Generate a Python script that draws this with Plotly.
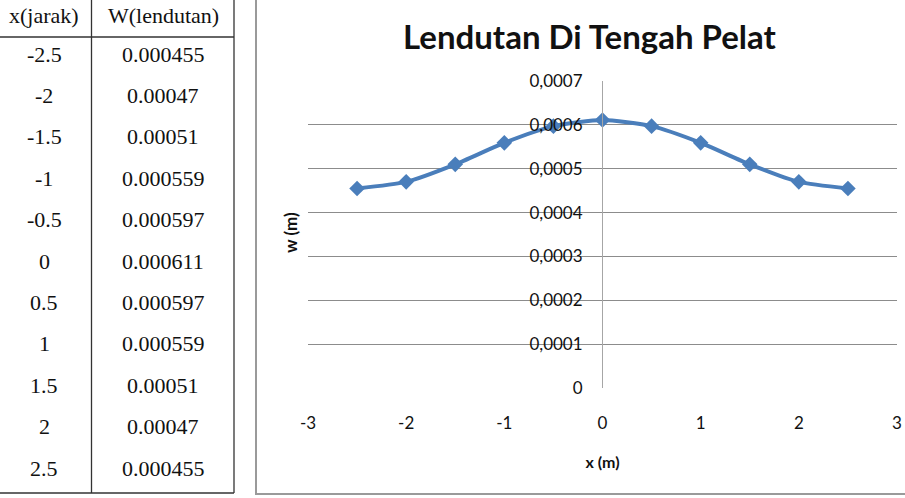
import plotly.graph_objects as go

W, H = 905, 498

x_vals = [-2.5, -2, -1.5, -1, -0.5, 0, 0.5, 1, 1.5, 2, 2.5]
w_vals = [0.000455, 0.00047, 0.00051, 0.000559, 0.000597, 0.000611,
          0.000597, 0.000559, 0.00051, 0.00047, 0.000455]
x_labels = ["-2.5", "-2", "-1.5", "-1", "-0.5", "0", "0.5", "1", "1.5", "2", "2.5"]
w_labels = ["0.000455", "0.00047", "0.00051", "0.000559", "0.000597", "0.000611",
            "0.000597", "0.000559", "0.00051", "0.00047", "0.000455"]
y_tickvals = [0, 0.0001, 0.0002, 0.0003, 0.0004, 0.0005, 0.0006, 0.0007]
y_ticktext = ["0", "0,0001", "0,0002", "0,0003", "0,0004", "0,0005", "0,0006", "0,0007"]
x_tickvals = [-3, -2, -1, 0, 1, 2, 3]
x_ticktext = ["-3", "-2", "-1", "0", "1", "2", "3"]

def px(x):
    return x / W

def py(y):
    return (H - y) / H

fig = go.Figure()
fig.add_trace(go.Scatter(
    x=x_vals, y=w_vals, mode="lines+markers",
    line=dict(color="#4A7EBB", width=4, shape="spline", smoothing=0.6),
    marker=dict(symbol="diamond", size=12, color="#4A7EBB"),
    showlegend=False, hoverinfo="skip",
))

# plot geometry
x_left, x_right = 308, 897
y_zero, y_top = 388, 81

tick_font = dict(family="Lato", size=17, color="#111")

fig.update_layout(
    width=W, height=H,
    margin=dict(l=0, r=0, t=0, b=0, autoexpand=False),
    paper_bgcolor="white", plot_bgcolor="white",
    showlegend=False,
    xaxis=dict(
        domain=[px(x_left), px(x_right)], range=[-3, 3],
        tickvals=x_tickvals, ticktext=x_ticktext,
        showgrid=False, zeroline=False, showline=False,
        ticks="outside", ticklen=20, tickcolor="rgba(0,0,0,0)",
        tickfont=tick_font,
        title=dict(text="<b>x (m)</b>", font=dict(family="Lato", size=16, color="#111"), standoff=24),
    ),
    yaxis=dict(
        domain=[py(y_zero), py(y_top)], range=[0, 0.0007],
        tickvals=y_tickvals, ticktext=y_ticktext,
        anchor="free", position=px(602),
        showgrid=True, gridcolor="#8C8C8C", gridwidth=1,
        zeroline=False, showline=True, linecolor="#A6A6A6", linewidth=1,
        ticks="outside", ticklen=16, tickcolor="rgba(0,0,0,0)",
        tickfont=tick_font,
    ),
)

# title and axis titles
fig.add_annotation(x=px(590), y=py(36), xref="paper", yref="paper",
                   xanchor="center", yanchor="middle",
                   text="<b>Lendutan Di Tengah Pelat</b>", showarrow=False,
                   font=dict(family="Lato", size=33, color="#111"))
fig.add_annotation(x=px(290), y=py(233), xref="paper", yref="paper",
                   xanchor="center", yanchor="middle",
                   text="<b>w (m)</b>", showarrow=False, textangle=-90,
                   font=dict(family="Lato", size=17, color="#111"))

# chart frame (left and bottom visible)
fig.add_shape(type="line", xref="paper", yref="paper",
              x0=px(256), x1=px(256), y0=py(0), y1=py(494),
              line=dict(color="#9A9A9A", width=2))
fig.add_shape(type="line", xref="paper", yref="paper",
              x0=px(255), x1=px(905), y0=py(494), y1=py(494),
              line=dict(color="#9A9A9A", width=2))

# table
tbl_line = dict(color="#333", width=1.3)
fig.add_shape(type="line", xref="paper", yref="paper",
              x0=px(0), x1=px(234), y0=py(37), y1=py(37), line=tbl_line)
fig.add_shape(type="line", xref="paper", yref="paper",
              x0=px(91.5), x1=px(91.5), y0=py(0), y1=py(493), line=tbl_line)
fig.add_shape(type="line", xref="paper", yref="paper",
              x0=px(234), x1=px(234), y0=py(0), y1=py(493), line=tbl_line)
fig.add_shape(type="line", xref="paper", yref="paper",
              x0=px(0), x1=px(234), y0=py(493), y1=py(493), line=tbl_line)

tfont = dict(family="Liberation Serif", size=22, color="#111")
fig.add_annotation(x=px(44), y=py(16), xref="paper", yref="paper",
                   xanchor="center", yanchor="middle",
                   text="x(jarak)", showarrow=False, font=tfont)
fig.add_annotation(x=px(163), y=py(16), xref="paper", yref="paper",
                   xanchor="center", yanchor="middle",
                   text="W(lendutan)", showarrow=False, font=tfont)
row0, step = 54, 41.4
for i, (a, b) in enumerate(zip(x_labels, w_labels)):
    yy = row0 + i * step
    fig.add_annotation(x=px(44), y=py(yy), xref="paper", yref="paper",
                       xanchor="center", yanchor="middle",
                       text=a, showarrow=False, font=tfont)
    fig.add_annotation(x=px(163), y=py(yy), xref="paper", yref="paper",
                       xanchor="center", yanchor="middle",
                       text=b, showarrow=False, font=tfont)

fig.write_html("out.html")
